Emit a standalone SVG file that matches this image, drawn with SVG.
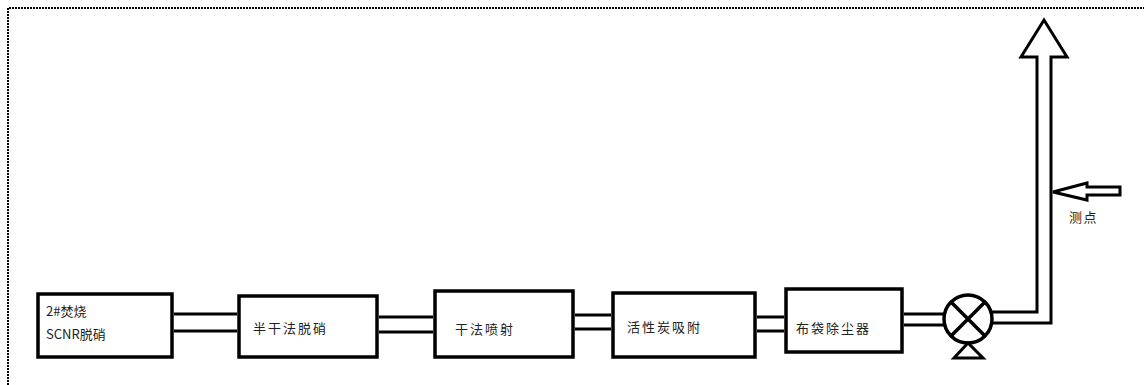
<svg xmlns="http://www.w3.org/2000/svg" width="1144" height="385" viewBox="0 0 1144 385">
<style>
.box{fill:#fff;stroke:#000;stroke-width:3.5}
.pipe{fill:none;stroke:#000;stroke-width:3}
.lbl{font-family:"Noto Sans CJK SC","Liberation Sans",sans-serif;font-size:13px;fill:#222;letter-spacing:2px}
.lbl1{font-family:"Noto Sans CJK SC","Liberation Sans",sans-serif;font-size:13px;fill:#222}
</style>
<rect x="0" y="0" width="1144" height="385" fill="#fff"/>
<path d="M8,385 V8 H1144" fill="none" stroke="#000" stroke-width="2" stroke-dasharray="2 1"/>
<g id="connectors">
<path class="pipe" d="M174,314 H237 M174,331 H237"/>
<path class="pipe" d="M379,317 H433 M379,332 H433"/>
<path class="pipe" d="M575,315 H611 M575,329 H611"/>
<path class="pipe" d="M757,317 H784 M757,331 H784"/>
<path class="pipe" d="M904,314 H945 M904,325 H945"/>
<path class="pipe" d="M991,312 H1037 V57 H1021 L1044,20 L1067,57 H1051 V323 H991"/>
</g>
<g id="node-incinerator">
<rect class="box" x="38" y="294" width="134" height="63"/>
<text class="lbl1" x="46" y="316">2#焚烧</text>
<text class="lbl1" x="46" y="339">SCNR脱硝</text>
</g>
<g id="node-semidry">
<rect class="box" x="239" y="296" width="138" height="61"/>
<text class="lbl" x="253" y="333">半干法脱硝</text>
</g>
<g id="node-dryinjection">
<rect class="box" x="435" y="291" width="138" height="66"/>
<text class="lbl" x="455" y="334">干法喷射</text>
</g>
<g id="node-carbon">
<rect class="box" x="613" y="293" width="142" height="64"/>
<text class="lbl" x="627" y="332">活性炭吸附</text>
</g>
<g id="node-baghouse">
<rect class="box" x="786" y="289" width="116" height="63"/>
<text class="lbl" x="796" y="333">布袋除尘器</text>
</g>
<g id="node-fan">
<circle cx="968" cy="319" r="24" fill="#fff" stroke="#000" stroke-width="3.5"/>
<path d="M951,302 L985,336 M985,302 L951,336" stroke="#000" stroke-width="3.5"/>
<path d="M968,343 L954,358 H983 Z" fill="#fff" stroke="#000" stroke-width="3" stroke-linejoin="miter"/>
</g>
<g id="node-measure">
<path d="M1053,192 L1087,183 V187 H1120 V195 H1087 V200 Z" fill="#fff" stroke="#000" stroke-width="3" stroke-linejoin="miter"/>
<text class="lbl1" x="1069" y="222" style="letter-spacing:1.5px">测点</text>
</g>
</svg>
